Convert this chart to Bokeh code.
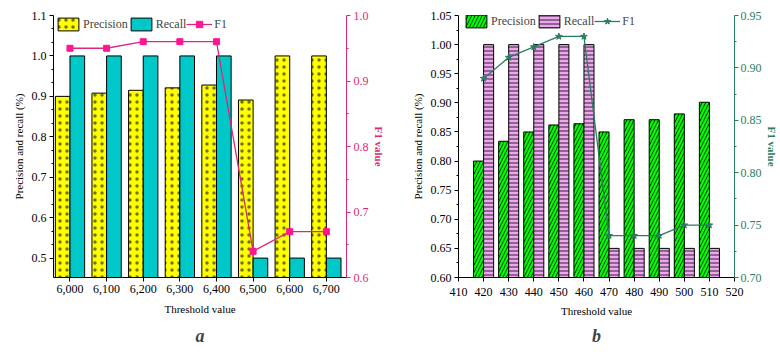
from bokeh.plotting import figure
from bokeh.layouts import row
from bokeh.models import (Range1d, LinearAxis, FixedTicker,
                          NumeralTickFormatter, PrintfTickFormatter, Legend, LegendItem,
                          ColumnDataSource, Title)
from bokeh.transform import dodge
from bokeh.embed import file_html
from bokeh.resources import INLINE

# ---- data: chart a ----
a_threshold = [6000, 6100, 6200, 6300, 6400, 6500, 6600, 6700]
a_precision = [0.900, 0.908, 0.915, 0.921, 0.928, 0.891, 1.000, 1.000]
a_recall = [1.0, 1.0, 1.0, 1.0, 1.0, 0.5, 0.5, 0.5]
a_f1 = [0.95, 0.95, 0.96, 0.96, 0.96, 0.64, 0.67, 0.67]
a_left_ticks = [0.5, 0.6, 0.7, 0.8, 0.9, 1.0, 1.1]
a_right_ticks = [0.6, 0.7, 0.8, 0.9, 1.0]

# ---- data: chart b ----
b_threshold = [420, 430, 440, 450, 460, 470, 480, 490, 500, 510]
b_precision = [0.800, 0.834, 0.850, 0.862, 0.864, 0.850, 0.871, 0.871, 0.881, 0.901]
b_recall = [1.0, 1.0, 1.0, 1.0, 1.0, 0.65, 0.65, 0.65, 0.65, 0.65]
b_f1 = [0.89, 0.91, 0.92, 0.93, 0.93, 0.74, 0.74, 0.74, 0.75, 0.75]
b_x_ticks = [410, 420, 430, 440, 450, 460, 470, 480, 490, 500, 510, 520]
b_left_ticks = [0.60, 0.65, 0.70, 0.75, 0.80, 0.85, 0.90, 0.95, 1.00, 1.05]
b_right_ticks = [0.70, 0.75, 0.80, 0.85, 0.90, 0.95]

SERIF = "Liberation Serif"
PINK = "#DC2878"
PINK_M = "#FF1493"
GREEN_D = "#2B7D60"


def minors(ticks, n):
    out = []
    for a, b in zip(ticks[:-1], ticks[1:]):
        for k in range(1, n):
            out.append(a + (b - a) * k / n)
    return out


def style_axis(ax, color="black"):
    ax.axis_line_color = color
    ax.major_tick_line_color = color
    ax.minor_tick_line_color = color
    ax.major_label_text_color = color
    ax.axis_label_text_color = color
    ax.major_label_text_font = SERIF
    ax.major_label_text_font_size = "12px"
    ax.axis_label_text_font = SERIF
    ax.axis_label_text_font_size = "11px"
    ax.axis_label_text_font_style = "normal"
    ax.major_tick_out = 4
    ax.major_tick_in = 0
    ax.minor_tick_out = 2
    ax.minor_tick_in = 0
    ax.major_label_standoff = 3
    ax.axis_label_standoff = 4


def make_legend(items, loc):
    lg = Legend(items=items, orientation="horizontal", location=loc,
                glyph_width=26, glyph_height=16, label_standoff=2, spacing=0,
                padding=0, margin=0, border_line_color=None,
                background_fill_alpha=0, label_text_font=SERIF,
                label_text_font_size="12px", label_height=16)
    return lg


# ================= chart a =================
pa = figure(width=390, height=358, x_range=Range1d(5955, 6755), y_range=Range1d(0.452, 1.1),
            output_backend="svg", toolbar_location=None,
            min_border_left=53, min_border_right=44, min_border_top=15, min_border_bottom=81)
pa.extra_y_ranges = {"f1": Range1d(0.6, 1.0)}
pa.outline_line_color = None
pa.xgrid.visible = False
pa.ygrid.visible = False

src_a = ColumnDataSource(dict(t=a_threshold, p=a_precision, r=a_recall, f=a_f1))
rp = pa.vbar(x=dodge("t", -20, range=pa.x_range), top="p", bottom=0, width=40, source=src_a,
             fill_color="#FFFF00", line_color="black", line_width=1,
             hatch_pattern="dot", hatch_color="black", hatch_scale=7, hatch_weight=0.5,
             hatch_alpha=0.55)
rr = pa.vbar(x=dodge("t", 20, range=pa.x_range), top="r", bottom=0, width=40, source=src_a,
             fill_color="#00C8C8", line_color="black", line_width=1)
rl = pa.line(x="t", y="f", source=src_a, y_range_name="f1", line_color=PINK, line_width=1.3)
rs = pa.scatter(x="t", y="f", source=src_a, y_range_name="f1", marker="square", size=6,
                fill_color=PINK_M, line_color=PINK_M)

xa = pa.xaxis[0]
xa.ticker = FixedTicker(ticks=a_threshold)
xa.formatter = NumeralTickFormatter(format="0,0")
xa.axis_label = "Threshold value"
style_axis(xa)
xa.minor_tick_out = 0
xa.major_label_standoff = 3
xa.axis_label_standoff = 7

ya = pa.yaxis[0]
ya.ticker = FixedTicker(ticks=a_left_ticks, minor_ticks=minors(a_left_ticks, 3))
ya.formatter = PrintfTickFormatter(format="%.1f")
ya.axis_label = "Precision and recall (%)"
style_axis(ya)

ya2 = LinearAxis(y_range_name="f1",
                 ticker=FixedTicker(ticks=a_right_ticks, minor_ticks=minors(a_right_ticks, 2)),
                 formatter=PrintfTickFormatter(format="%.1f"), axis_label="F1 value")
style_axis(ya2, PINK)
ya2.axis_label_text_font_style = "bold"
ya2.axis_label_standoff = 1
pa.add_layout(ya2, "right")

pa.add_layout(make_legend([LegendItem(label="Precision", renderers=[rp]),
                           LegendItem(label="Recall", renderers=[rr]),
                           LegendItem(label="F1", renderers=[rl, rs])], (2, 245)))
pa.add_layout(Title(text="a", align="center", text_font=SERIF, text_font_size="18px",
                    text_font_style="bold italic", standoff=12), "below")

# ================= chart b =================
pb = figure(width=390, height=358, x_range=Range1d(410, 520), y_range=Range1d(0.6, 1.05),
            output_backend="svg", toolbar_location=None,
            min_border_left=68, min_border_right=38, min_border_top=15, min_border_bottom=78)
pb.extra_y_ranges = {"f1": Range1d(0.70, 0.95)}
pb.outline_line_color = None
pb.xgrid.visible = False
pb.ygrid.visible = False

src_b = ColumnDataSource(dict(t=b_threshold, p=b_precision, r=b_recall, f=b_f1))
bp = pb.vbar(x=dodge("t", -2, range=pb.x_range), top="p", bottom=0, width=4, source=src_b,
             fill_color="#00FF00", line_color="black", line_width=1,
             hatch_pattern="right_diagonal_line", hatch_color="black", hatch_scale=7, hatch_weight=0.8)
br = pb.vbar(x=dodge("t", 2, range=pb.x_range), top="r", bottom=0, width=4, source=src_b,
             fill_color="#EEA6F0", line_color="black", line_width=1,
             hatch_pattern="horizontal_line", hatch_color="black", hatch_scale=4, hatch_weight=0.8)
bl = pb.line(x="t", y="f", source=src_b, y_range_name="f1", line_color=GREEN_D, line_width=1.3)
bs = pb.scatter(x="t", y="f", source=src_b, y_range_name="f1", marker="star", size=7,
                fill_color=GREEN_D, line_color=GREEN_D)

xb = pb.xaxis[0]
xb.ticker = FixedTicker(ticks=b_x_ticks)
xb.axis_label = "Threshold value"
style_axis(xb)
xb.minor_tick_out = 0
xb.major_label_standoff = 6
xb.axis_label_standoff = 6

yb = pb.yaxis[0]
yb.ticker = FixedTicker(ticks=b_left_ticks, minor_ticks=minors(b_left_ticks, 2))
yb.formatter = PrintfTickFormatter(format="%.2f")
yb.axis_label = "Precision and recall (%)"
style_axis(yb)

yb2 = LinearAxis(y_range_name="f1",
                 ticker=FixedTicker(ticks=b_right_ticks, minor_ticks=minors(b_right_ticks, 2)),
                 formatter=PrintfTickFormatter(format="%.2f"), axis_label="F1 value")
style_axis(yb2, GREEN_D)
yb2.axis_label_text_font_style = "bold"
yb2.major_label_standoff = 2
yb2.axis_label_standoff = 1
pb.add_layout(yb2, "right")

pb.add_layout(make_legend([LegendItem(label="Precision", renderers=[bp]),
                           LegendItem(label="Recall", renderers=[br]),
                           LegendItem(label="F1", renderers=[bl, bs])], (5, 248)))
pb.add_layout(Title(text="b", align="center", text_font=SERIF, text_font_size="18px",
                    text_font_style="bold italic", standoff=9), "below")

layout = row(pa, pb)
open("out.html", "w").write(file_html(layout, INLINE))
